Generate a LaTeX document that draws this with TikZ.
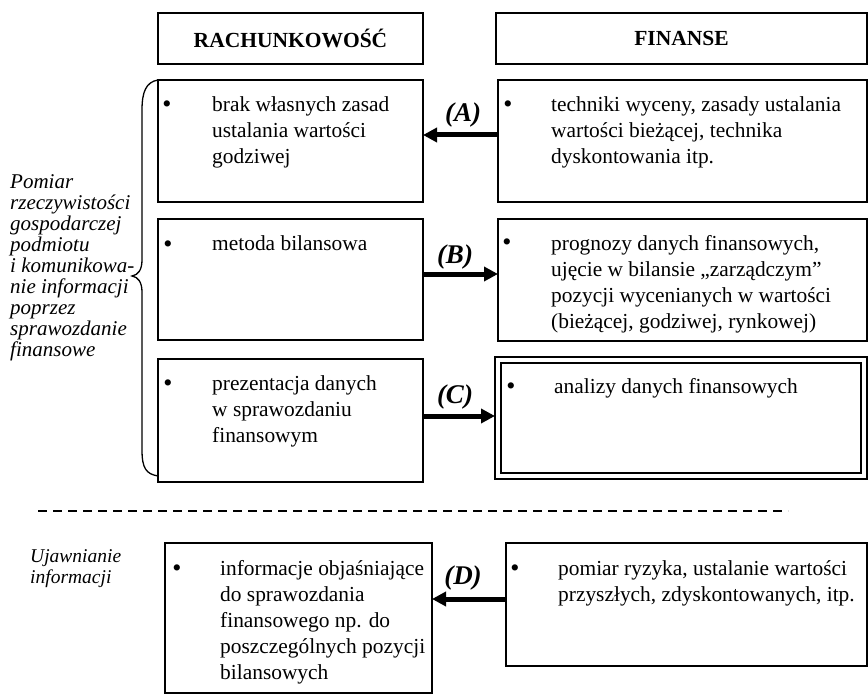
\documentclass[tikz,border=0pt]{standalone}
\usepackage{fontspec}
\setmainfont{Liberation Serif}
\usetikzlibrary{arrows.meta}
\tikzset{
 box/.style={draw, line width=1.6pt, anchor=north west, inner sep=0pt, outer sep=0pt},
 hbox/.style={box, font=\fontsize{21.5}{26}\selectfont\bfseries},
 arr/.style={line width=5pt, -{Triangle[length=14pt,width=14pt]}},
 txt/.style={anchor=base west, inner sep=0pt, font=\fontsize{21.4}{26}\selectfont},
 bul/.style={anchor=base, inner sep=0pt, font=\fontsize{26}{26}\selectfont},
 lab/.style={font=\fontsize{27}{30}\selectfont\bfseries\itshape, inner sep=0pt},
 side/.style={anchor=base west, inner sep=0pt, font=\fontsize{21}{20.9}\selectfont\itshape},
 side2/.style={anchor=base west, inner sep=0pt, font=\fontsize{19.5}{21}\selectfont\itshape},
 bracepath/.style={line width=1.3pt},
 sep/.style={line width=1.6pt, dash pattern=on 9pt off 6pt}
}
\newcommand\mlines[1]{\parbox[t]{400pt}{\raggedright #1}}
\begin{document}
\begin{tikzpicture}[x=1pt,y=-1pt]
\useasboundingbox (0,0) rectangle (868,698);
% headers
\node[hbox, minimum width=265pt, minimum height=51pt] (H1) at (158,13) {RACHUNKOWOŚĆ};
\node[hbox, minimum width=371pt, minimum height=51pt] (H2) at (496,13) {FINANSE};
% boxes
\node[box, minimum width=265pt, minimum height=122pt] (R1) at (158,80) {};
\node[box, minimum width=369pt, minimum height=122pt] (F1) at (498,80) {};
\node[box, minimum width=265pt, minimum height=121pt] (R2) at (158,219) {};
\node[box, minimum width=369pt, minimum height=122pt] (F2) at (498,219) {};
\node[box, minimum width=265pt, minimum height=123pt] (R3) at (158,359) {};
\node[box, line width=2.2pt, minimum width=372pt, minimum height=122pt] (F3) at (495,357) {};
\node[box, line width=1.6pt, minimum width=360pt, minimum height=110pt] (F3i) at (501,363) {};
\node[box, minimum width=267pt, minimum height=150pt] (L4) at (165,543) {};
\node[box, minimum width=361pt, minimum height=123pt] (F4) at (506,543) {};
% bullets
\node[bul] (bR1) at (167,113) {•};
\node[bul] (bF1) at (508,113) {•};
\node[bul] (bR2) at (168,252) {•};
\node[bul] (bF2) at (507,251) {•};
\node[bul] (bR3) at (168,391) {•};
\node[bul] (bF3) at (511,394) {•};
\node[bul] (bL4) at (177,576) {•};
\node[bul] (bF4) at (515,576) {•};
% texts
\node[txt] (tR1) at (212,112) {\mlines{brak własnych zasad\\ustalania wartości\\godziwej}};
\node[txt] (tF1) at (551,112) {\mlines{techniki wyceny, zasady ustalania\\wartości bieżącej, technika\\dyskontowania itp.}};
\node[txt] (tR2) at (212,251) {\mlines{metoda bilansowa}};
\node[txt] (tF2) at (551,250) {\mlines{prognozy danych finansowych,\\ujęcie w bilansie „zarządczym”\\pozycji wycenianych w wartości\\(bieżącej, godziwej, rynkowej)}};
\node[txt] (tR3) at (212,390) {\mlines{prezentacja danych\\w sprawozdaniu\\finansowym}};
\node[txt] (tF3) at (554,393) {\mlines{analizy danych finansowych}};
\node[txt] (tL4) at (220,575) {\mlines{informacje objaśniające\\do sprawozdania\\finansowego np. do\\poszczególnych pozycji\\bilansowych}};
\node[txt] (tF4) at (558,575) {\mlines{pomiar ryzyka, ustalanie wartości\\przyszłych, zdyskontowanych, itp.}};
% side texts
\node[side] (s1) at (10,189) {\mlines{Pomiar\\rzeczywistości\\gospodarczej\\podmiotu\\i komunikowa-\\nie informacji\\poprzez\\sprawozdanie\\finansowe}};
\node[side2] (s2) at (30,562) {\mlines{Ujawnianie\\informacji}};
% brace
\draw[bracepath] (R1.north west) .. controls (146,82) and (142,92) .. (142,110) -- (142,260)
  .. controls (142,270) and (138,275) .. (132,276)
  .. controls (138,277) and (142,282) .. (142,292) -- (142,450)
  .. controls (142,468) and (146,474) .. (R3.west |- 0,476);
% arrows
\draw[arr] (F1.west |- 0,135) -- (R1.east |- 0,135);
\draw[arr] (R2.east |- 0,274) -- (F2.west |- 0,274);
\draw[arr] (R3.east |- 0,416) -- (F3.west |- 0,416);
\draw[arr] (F4.west |- 0,599) -- (L4.east |- 0,599);
% labels
\node[lab] (lA) at (463,115) {(A)};
\node[lab] (lB) at (455,257) {(B)};
\node[lab] (lC) at (455,397) {(C)};
\node[lab] (lD) at (463,578) {(D)};
% separator
\coordinate (d1) at (38,511);
\coordinate (d2) at (788,511);
\draw[sep] (d1) -- (d2);
\end{tikzpicture}
\end{document}
